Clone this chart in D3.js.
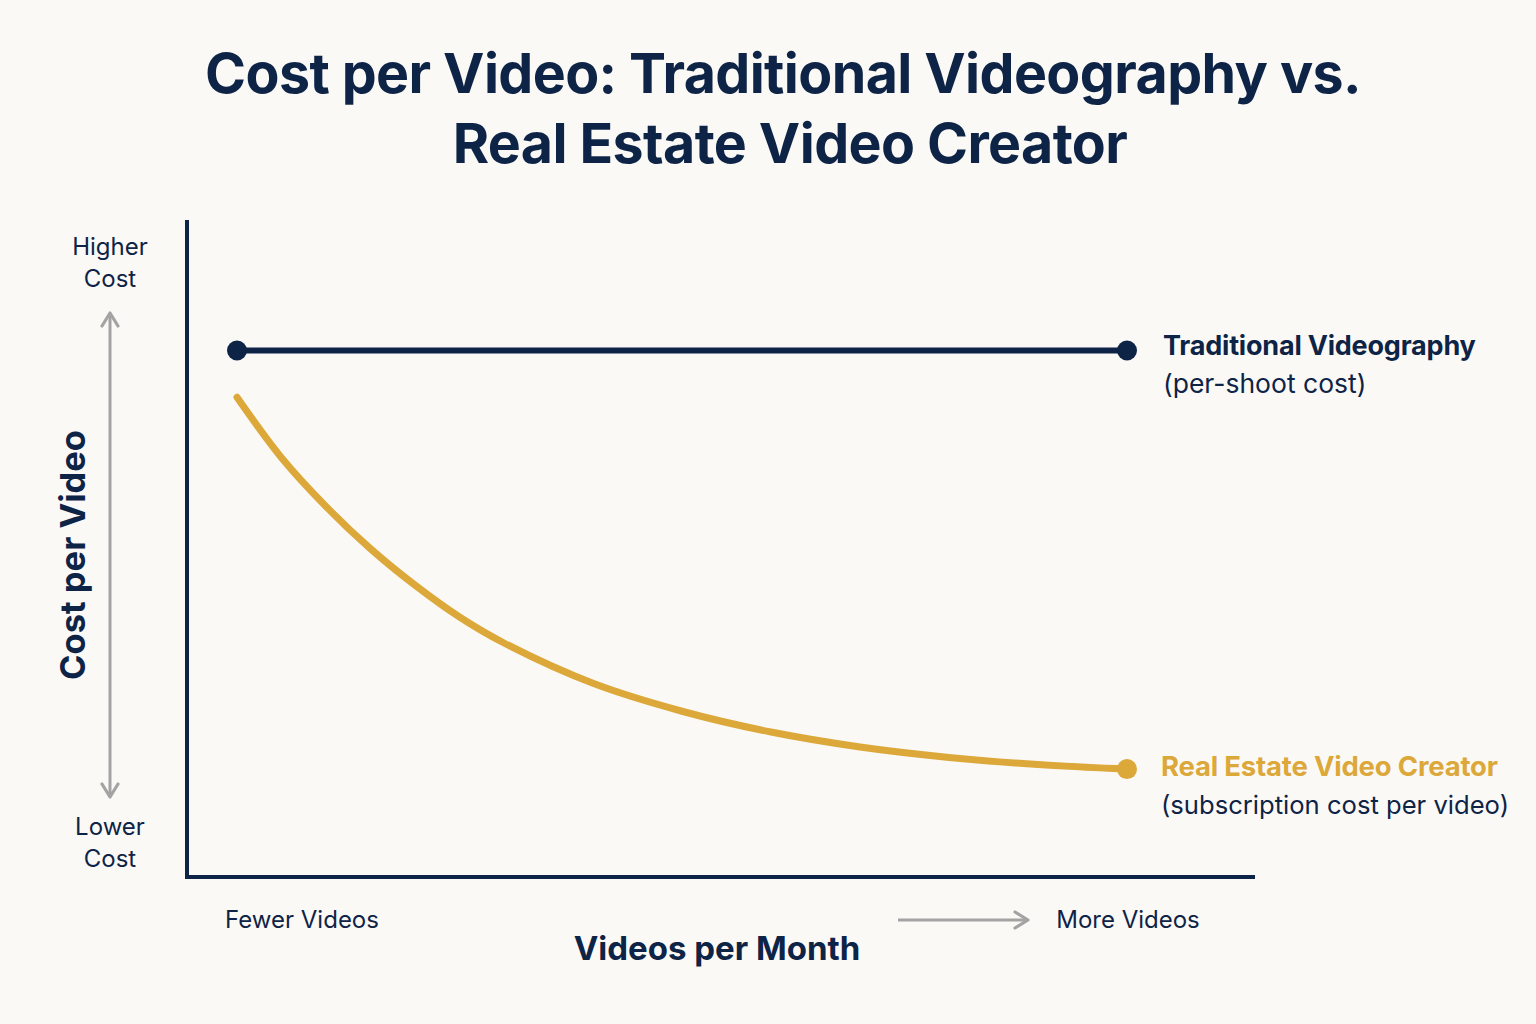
<!DOCTYPE html>
<html>
<head>
<meta charset="utf-8">
<script src="https://cdn.jsdelivr.net/npm/d3@7"></script>
<style>
  html, body { margin: 0; padding: 0; background: #fbf9f6; }
  svg { display: block; }
  text { font-family: Inter, "Open Sans", sans-serif; }
</style>
</head>
<body>
<svg id="chart" width="1536" height="1024"></svg>
<script>
// ---- Data ----
const titleLines = ["Cost per Video: Traditional Videography vs.", "Real Estate Video Creator"];
const videosPerMonth = [0, 0.5, 1, 1.5, 2, 2.5, 3, 4, 5, 6, 7, 8, 9, 10];
const traditionalCost = [81, 81, 81, 81, 81, 81, 81, 81, 81, 81, 81, 81, 81, 81];
const creatorCost = [73.8, 64.5, 57.0, 50.5, 44.9, 40.0, 36.0, 29.8, 25.5, 22.3, 20.0, 18.4, 17.3, 16.6];
const seriesNames = ["Traditional Videography", "Real Estate Video Creator"];
const seriesNotes = ["(per-shoot cost)", "(subscription cost per video)"];
const yEndLabels = [["Higher", "Cost"], ["Lower", "Cost"]];
const xEndLabels = ["Fewer Videos", "More Videos"];
const xTitle = "Videos per Month";
const yTitle = "Cost per Video";

// ---- Styles ----
const navy = "#0e2446";
const gold = "#dca83a";
const grey = "#a3a3a3";

const svg = d3.select("#chart");
svg.append("rect").attr("width", 1536).attr("height", 1024).attr("fill", "#fbf9f6");

const x = d3.scaleLinear().domain([0, 10]).range([237, 1127]);
const y = d3.scaleLinear().domain([0, 100]).range([877, 227]);

// Title
svg.append("g").selectAll("text").data(titleLines).join("text")
  .attr("x", (d, i) => i === 0 ? 783 : 790).attr("y", (d, i) => 93 + i * 70)
  .attr("text-anchor", "middle")
  .attr("font-size", 55.5).attr("font-weight", 700)
  .attr("fill", navy).attr("letter-spacing", -0.6)
  .text(d => d);

// Axes (no ticks)
svg.append("line").attr("x1", 187).attr("x2", 187).attr("y1", 220).attr("y2", 879)
  .attr("stroke", navy).attr("stroke-width", 4);
svg.append("line").attr("x1", 185).attr("x2", 1255).attr("y1", 877).attr("y2", 877)
  .attr("stroke", navy).attr("stroke-width", 4);

// Arrow markers
const defs = svg.append("defs");
defs.append("marker").attr("id", "arr").attr("viewBox", "0 0 10 10")
  .attr("refX", 8).attr("refY", 5)
  .attr("orient", "auto-start-reverse").attr("markerUnits", "userSpaceOnUse")
  .attr("markerWidth", 20).attr("markerHeight", 20)
  .append("path").attr("d", "M1.5,1 L8,5 L1.5,9").attr("fill", "none")
  .attr("stroke", grey).attr("stroke-width", 1.6).attr("stroke-linecap", "round").attr("stroke-linejoin", "round");

// Y double arrow
svg.append("line").attr("x1", 110).attr("x2", 110).attr("y1", 313).attr("y2", 797)
  .attr("stroke", grey).attr("stroke-width", 3)
  .attr("marker-start", "url(#arr)").attr("marker-end", "url(#arr)");

// X arrow
svg.append("line").attr("x1", 898).attr("x2", 1028).attr("y1", 920).attr("y2", 920)
  .attr("stroke", grey).attr("stroke-width", 3)
  .attr("marker-end", "url(#arr)");

// Y end labels
yEndLabels.forEach((lines, k) => {
  svg.append("g").selectAll("text").data(lines).join("text")
    .attr("x", 110).attr("y", (d, i) => (k === 0 ? 255 : 835) + i * 32)
    .attr("text-anchor", "middle").attr("font-size", 24).attr("fill", navy)
    .text(d => d);
});

// Y title
svg.append("text").attr("transform", "translate(85,555) rotate(-90)")
  .attr("text-anchor", "middle").attr("font-size", 34.5).attr("font-weight", 700)
  .attr("fill", navy).text(yTitle);

// X end labels
svg.append("text").attr("x", 302).attr("y", 928).attr("text-anchor", "middle")
  .attr("font-size", 24).attr("fill", navy).text(xEndLabels[0]);
svg.append("text").attr("x", 1128).attr("y", 928).attr("text-anchor", "middle")
  .attr("font-size", 24).attr("fill", navy).text(xEndLabels[1]);

// X title
svg.append("text").attr("x", 717).attr("y", 960).attr("text-anchor", "middle")
  .attr("font-size", 33).attr("font-weight", 700).attr("fill", navy).text(xTitle);

// Lines
const trad = videosPerMonth.map((v, i) => ({ x: v, y: traditionalCost[i] }));
const creator = videosPerMonth.map((v, i) => ({ x: v, y: creatorCost[i] }));
const line = d3.line().x(d => x(d.x)).y(d => y(d.y)).curve(d3.curveCatmullRom.alpha(0.5));

svg.append("path").datum(trad).attr("d", line).attr("fill", "none")
  .attr("stroke", navy).attr("stroke-width", 6);
svg.append("path").datum(creator).attr("d", line).attr("fill", "none")
  .attr("stroke", gold).attr("stroke-width", 7).attr("stroke-linecap", "round");

// Dots
const tEnds = [trad[0], trad[trad.length - 1]];
svg.append("g").selectAll("circle").data(tEnds).join("circle")
  .attr("cx", d => x(d.x)).attr("cy", d => y(d.y)).attr("r", 10).attr("fill", navy);
const cEnd = creator[creator.length - 1];
svg.append("circle").attr("cx", x(cEnd.x)).attr("cy", y(cEnd.y)).attr("r", 10).attr("fill", gold);

// Series labels
const tY = y(traditionalCost[traditionalCost.length - 1]);
svg.append("text").attr("x", 1163).attr("y", tY + 4)
  .attr("font-size", 27).attr("font-weight", 700).attr("fill", navy).attr("letter-spacing", -0.2)
  .text(seriesNames[0]);
svg.append("text").attr("x", 1163).attr("y", tY + 42)
  .attr("font-size", 26.5).attr("fill", navy).text(seriesNotes[0]);
svg.append("text").attr("x", 1161).attr("y", y(cEnd.y) + 7)
  .attr("font-size", 27.5).attr("font-weight", 700).attr("fill", gold).attr("letter-spacing", -0.2)
  .text(seriesNames[1]);
svg.append("text").attr("x", 1161).attr("y", y(cEnd.y) + 45)
  .attr("font-size", 25.6).attr("fill", navy).text(seriesNotes[1]);
</script>
</body>
</html>
